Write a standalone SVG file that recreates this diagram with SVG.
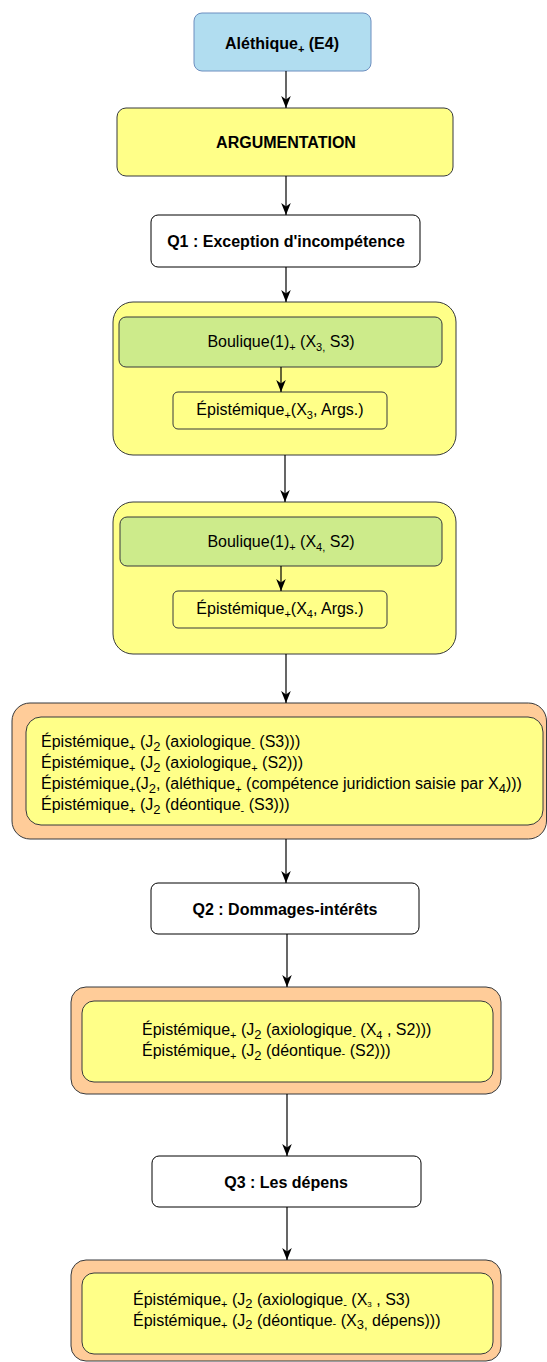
<svg xmlns="http://www.w3.org/2000/svg" width="547" height="1362" viewBox="0 0 547 1362">
<style>
text{font-family:"Liberation Sans",Arial,Helvetica,sans-serif;font-size:16px;fill:#000}
.b{font-weight:bold}
.m{text-anchor:middle}
.sub{font-size:11px}
.blue{fill:#b1ddf0;stroke:#6c8ebf;stroke-width:1}
.yel{fill:#ffff88;stroke:#36393d;stroke-width:1}
.grn{fill:#cdeb8b;stroke:#36393d;stroke-width:1}
.org{fill:#ffcc99;stroke:#36393d;stroke-width:1}
.wht{fill:#ffffff;stroke:#000000;stroke-width:1}
.edge{stroke:#000;stroke-width:1.2;fill:none;marker-end:url(#arr)}
</style>
<defs>
<marker id="arr" markerUnits="userSpaceOnUse" markerWidth="12" markerHeight="12" viewBox="0 0 10 8" refX="10" refY="4" orient="auto">
<path d="M0,0 L10,4 L0,8 L3,4 Z" fill="#000"/>
</marker>
</defs>

<g id="n-alethique">
<rect class="blue" x="194" y="13" width="177" height="58" rx="8"/>
<text class="b m" x="282" y="49">Aléthique<tspan class="sub" dy="4">+</tspan><tspan dy="-4"> (E4)</tspan></text>
</g>

<g id="n-argumentation">
<rect class="yel" x="117" y="108" width="336" height="68" rx="9"/>
<text class="b m" x="286" y="148">ARGUMENTATION</text>
</g>

<g id="n-q1">
<rect class="wht" x="151" y="215" width="269" height="52" rx="7"/>
<text class="b m" x="286" y="247">Q1 : Exception d'incompétence</text>
</g>

<g id="n-group1">
<rect class="yel" x="113" y="302" width="343" height="153" rx="20"/>
</g>
<g id="n-boulique1">
<rect class="grn" x="119" y="317" width="323" height="50" rx="7"/>
<text class="m" x="281" y="347">Boulique(1)<tspan class="sub" dy="4">+</tspan><tspan dy="-4"> (X</tspan><tspan class="sub" dy="4">3,</tspan><tspan dy="-4"> S3)</tspan></text>
</g>
<g id="n-epist1">
<rect class="yel" x="173" y="392" width="214" height="37" rx="5"/>
<text class="m" x="280" y="415">Épistémique<tspan class="sub" dy="4">+</tspan><tspan dy="-4">(X</tspan><tspan class="sub" dy="4">3</tspan><tspan dy="-4">, Args.)</tspan></text>
</g>

<g id="n-group2">
<rect class="yel" x="113" y="502" width="343" height="152" rx="20"/>
</g>
<g id="n-boulique2">
<rect class="grn" x="120" y="517" width="322" height="49" rx="7"/>
<text class="m" x="281" y="547">Boulique(1)<tspan class="sub" dy="4">+</tspan><tspan dy="-4"> (X</tspan><tspan class="sub" dy="4">4,</tspan><tspan dy="-4"> S2)</tspan></text>
</g>
<g id="n-epist2">
<rect class="yel" x="173" y="591" width="214" height="37" rx="5"/>
<text class="m" x="280" y="614">Épistémique<tspan class="sub" dy="4">+</tspan><tspan dy="-4">(X</tspan><tspan class="sub" dy="4">4</tspan><tspan dy="-4">, Args.)</tspan></text>
</g>

<g id="n-orange1">
<rect class="org" x="12" y="703" width="534.5" height="136" rx="18"/>
<rect class="yel" x="26" y="717" width="517" height="108" rx="15"/>
<text x="41" y="747">Épistémique<tspan class="sub" dy="4">+</tspan><tspan dy="-4"> (J</tspan><tspan class="sub" dy="4" style="font-size:13px">2</tspan><tspan dy="-4"> (axiologique</tspan><tspan class="sub" dy="4">-</tspan><tspan dy="-4"> (S3)))</tspan></text>
<text x="41" y="768">Épistémique<tspan class="sub" dy="4">+</tspan><tspan dy="-4"> (J</tspan><tspan class="sub" dy="4" style="font-size:13px">2</tspan><tspan dy="-4"> (axiologique</tspan><tspan class="sub" dy="4">+</tspan><tspan dy="-4"> (S2)))</tspan></text>
<text x="41" y="789">Épistémique<tspan class="sub" dy="4">+</tspan><tspan dy="-4">(J</tspan><tspan class="sub" dy="4" style="font-size:13px">2</tspan><tspan dy="-4">, (aléthique</tspan><tspan class="sub" dy="4">+</tspan><tspan dy="-4"> (compétence juridiction saisie par X</tspan><tspan class="sub" dy="4" style="font-size:13px">4</tspan><tspan dy="-4">)))</tspan></text>
<text x="41" y="810">Épistémique<tspan class="sub" dy="4">+</tspan><tspan dy="-4"> (J</tspan><tspan class="sub" dy="4" style="font-size:13px">2</tspan><tspan dy="-4"> (déontique</tspan><tspan class="sub" dy="4">-</tspan><tspan dy="-4"> (S3)))</tspan></text>
</g>

<g id="n-q2">
<rect class="wht" x="151" y="883" width="268" height="51" rx="7"/>
<text class="b m" x="285" y="915">Q2 : Dommages-intérêts</text>
</g>

<g id="n-orange2">
<rect class="org" x="71" y="987" width="430" height="107" rx="15"/>
<rect class="yel" x="82" y="1001" width="411" height="81" rx="12"/>
<text x="142" y="1035">Épistémique<tspan class="sub" dy="4">+</tspan><tspan dy="-4"> (J</tspan><tspan class="sub" dy="4" style="font-size:13px">2</tspan><tspan dy="-4"> (axiologique</tspan><tspan class="sub" dy="4">-</tspan><tspan dy="-4"> (X</tspan><tspan class="sub" dy="4">4</tspan><tspan dy="-4"> , S2)))</tspan></text>
<text x="142" y="1056">Épistémique<tspan class="sub" dy="4">+</tspan><tspan dy="-4"> (J</tspan><tspan class="sub" dy="4" style="font-size:13px">2</tspan><tspan dy="-4"> (déontique</tspan><tspan class="sub" dy="1">-</tspan><tspan dy="-1"> (S2)))</tspan></text>
</g>

<g id="n-q3">
<rect class="wht" x="152" y="1156" width="269" height="51" rx="7"/>
<text class="b m" x="286" y="1188">Q3 : Les dépens</text>
</g>

<g id="n-orange3">
<rect class="org" x="71" y="1260" width="430" height="101" rx="15"/>
<rect class="yel" x="82" y="1273" width="411" height="81" rx="12"/>
<text x="133" y="1305">Épistémique<tspan class="sub" dy="3">+</tspan><tspan dy="-3"> (J</tspan><tspan class="sub" dy="3" style="font-size:13px">2</tspan><tspan dy="-3"> (axiologique</tspan><tspan class="sub" dy="3">-</tspan><tspan dy="-3"> (X</tspan><tspan class="sub" dy="2" style="font-size:8px">3</tspan><tspan dy="-2"> , S3)</tspan></text>
<text x="133" y="1326">Épistémique<tspan class="sub" dy="3">+</tspan><tspan dy="-3"> (J</tspan><tspan class="sub" dy="3" style="font-size:13px">2</tspan><tspan dy="-3"> (déontique</tspan><tspan class="sub" dy="1">-</tspan><tspan dy="-1"> (X</tspan><tspan class="sub" dy="3" style="font-size:13px">3,</tspan><tspan dy="-3"> dépens)))</tspan></text>
</g>

<g id="connectors">
<line class="edge" x1="286" y1="71" x2="286" y2="108"/>
<line class="edge" x1="286" y1="176" x2="286" y2="215"/>
<line class="edge" x1="286" y1="267" x2="286" y2="302"/>
<line class="edge" x1="281" y1="367" x2="281" y2="392"/>
<line class="edge" x1="285" y1="455" x2="285" y2="502"/>
<line class="edge" x1="281" y1="566" x2="281" y2="591"/>
<line class="edge" x1="286" y1="654" x2="286" y2="703"/>
<line class="edge" x1="286" y1="839" x2="286" y2="883"/>
<line class="edge" x1="287" y1="934" x2="287" y2="987"/>
<line class="edge" x1="287" y1="1094" x2="287" y2="1156"/>
<line class="edge" x1="287" y1="1207" x2="287" y2="1260"/>
</g>
</svg>
